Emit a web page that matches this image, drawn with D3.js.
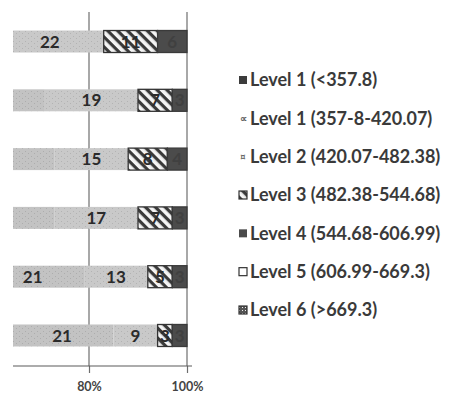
<!DOCTYPE html>
<html>
<head>
<meta charset="utf-8">
<script src="https://cdn.jsdelivr.net/npm/d3@7"></script>
<style>
  html, body { margin: 0; padding: 0; background: #fff; }
  svg { display: block; }
  text { font-family: Lato, "Open Sans", sans-serif; font-weight: 700; }
</style>
</head>
<body>
<svg id="chart" width="453" height="400"></svg>
<script>
// Rows of the stacked bars, top to bottom
const rows = ["r1", "r2", "r3", "r4", "r5", "r6"];

// Legend entries, in stacking order
const levelNames = [
  "Level 1 (<357.8)",
  "Level 1 (357-8-420.07)",
  "Level 2 (420.07-482.38)",
  "Level 3 (482.38-544.68)",
  "Level 4 (544.68-606.99)",
  "Level 5 (606.99-669.3)",
  "Level 6 (>669.3)"
];

// Percentage shares per row
const level1Low  = [41, 49, 52, 52, 58, 64];
const level1Mid  = [20, 22, 21, 21, 21, 21];
const level2     = [22, 19, 15, 17, 13, 9];
const level3     = [11, 7, 8, 7, 5, 3];
const level4     = [6, 3, 4, 3, 3, 3];
const level5     = [0, 0, 0, 0, 0, 0];
const level6     = [0, 0, 0, 0, 0, 0];

// Axis ticks
const tickValues = [80, 100];

const series = [level1Low, level1Mid, level2, level3, level4, level5, level6];
const keys = levelNames.map((d, i) => "k" + i);
const table = rows.map((r, ri) => {
  const o = { row: r };
  keys.forEach((k, ki) => { o[k] = series[ki][ri]; });
  return o;
});

const svg = d3.select("#chart");
const defs = svg.append("defs");

// Diagonal hatch for Level 3
const hatch = defs.append("pattern")
  .attr("id", "hatch").attr("patternUnits", "userSpaceOnUse")
  .attr("width", 7).attr("height", 7)
  .attr("patternTransform", "rotate(45)");
hatch.append("rect").attr("width", 7).attr("height", 7).attr("fill", "#f4f4f4");
hatch.append("rect").attr("width", 7).attr("height", 3.2).attr("fill", "#3a3a3a");

// Speckled grey fills for the Level 1 / Level 2 bands
function speckle(id, base, dot) {
  const p = defs.append("pattern").attr("id", id)
    .attr("patternUnits", "userSpaceOnUse").attr("width", 6).attr("height", 5);
  p.append("rect").attr("width", 6).attr("height", 5).attr("fill", base);
  p.append("rect").attr("x", 1).attr("y", 1).attr("width", 1).attr("height", 1).attr("fill", dot);
  p.append("rect").attr("x", 4).attr("y", 3).attr("width", 1).attr("height", 1).attr("fill", dot);
}
speckle("speckA", "#c3c3c3", "#adadad");
speckle("speckB", "#c9c9c9", "#b3b3b3");

// Dotted fill for Level 6
const dots = defs.append("pattern").attr("id", "dots")
  .attr("patternUnits", "userSpaceOnUse").attr("width", 3).attr("height", 3);
dots.append("rect").attr("width", 3).attr("height", 3).attr("fill", "#555");
dots.append("rect").attr("width", 1).attr("height", 1).attr("fill", "#eee");

const fills = ["#3c3c3c", "url(#speckA)", "url(#speckB)", "url(#hatch)", "#4b4b4b", "#ffffff", "url(#dots)"];
const strokes = [null, null, null, "#333", "#3a3a3a", "#333", "#333"];

// Only the right-hand part of the percentage scale lies inside the plot
const plotLeft = 13, plotRight = 192, plotTop = 12, axisY = 366;
const x = d3.scaleLinear().domain([0, 100]).range([-303, 187]);
const y = d3.scaleBand().domain(rows).range([plotTop, 365])
  .paddingInner(0.626).paddingOuter(0.315);

defs.append("clipPath").attr("id", "plotClip")
  .append("rect").attr("x", plotLeft).attr("y", 0)
  .attr("width", plotRight - plotLeft).attr("height", 400);

// Vertical reference lines at the tick values
svg.append("g")
  .selectAll("line").data(tickValues).join("line")
  .attr("x1", d => x(d)).attr("x2", d => x(d))
  .attr("y1", plotTop).attr("y2", axisY)
  .attr("stroke", "#6e6e6e").attr("stroke-width", 1.2);

const stacked = d3.stack().keys(keys)(table);

const plot = svg.append("g").attr("clip-path", "url(#plotClip)");

const layers = plot.selectAll("g.layer").data(stacked).join("g")
  .attr("class", "layer");

layers.selectAll("rect").data((s, i) => s.map(d => ({ d, i }))).join("rect")
  .filter(o => o.d[1] - o.d[0] > 0)
  .attr("x", o => x(o.d[0]))
  .attr("y", o => y(o.d.data.row))
  .attr("width", o => x(o.d[1]) - x(o.d[0]))
  .attr("height", y.bandwidth())
  .attr("fill", o => fills[o.i])
  .attr("stroke", o => strokes[o.i])
  .attr("stroke-width", o => strokes[o.i] ? 1.3 : 0);

// Value labels centred in each segment that shows inside the plot
const labelled = s => s.map(d => ({ d, i: s.index }))
  .filter(o => o.d[1] - o.d[0] > 0 && (x(o.d[0]) + x(o.d[1])) / 2 > plotLeft + 6);
layers.selectAll("text").data(labelled).join("text")
  .attr("x", o => (x(o.d[0]) + x(o.d[1])) / 2)
  .attr("y", o => y(o.d.data.row) + y.bandwidth() / 2)
  .attr("dy", "0.36em")
  .attr("text-anchor", "middle")
  .attr("font-size", 17)
  .attr("fill", o => o.i === 4 ? "#404040" : "#2b2b2b")
  .text(o => o.d[1] - o.d[0]);

// Bottom axis
const axis = d3.axisBottom(x).tickValues(tickValues)
  .tickSize(7).tickSizeOuter(0).tickPadding(9)
  .tickFormat(d => d + "%");
const ax = svg.append("g").attr("transform", `translate(0,${axisY})`).call(axis);
ax.select(".domain").remove();
ax.selectAll(".tick line").attr("stroke", "#6e6e6e").attr("stroke-width", 1.2);
ax.selectAll(".tick text").attr("font-size", 12.5).attr("fill", "#444")
  .attr("font-family", "Lato, sans-serif").attr("font-weight", 700);
svg.append("line")
  .attr("x1", plotLeft).attr("x2", plotRight)
  .attr("y1", axisY).attr("y2", axisY)
  .attr("stroke", "#5a5a5a").attr("stroke-width", 1.2);

// Legend
const legendY = d3.scalePoint().domain(levelNames).range([80, 310]);
const lg = svg.append("g").selectAll("g").data(levelNames).join("g")
  .attr("transform", d => `translate(239,${legendY(d)})`);
lg.append("rect")
  .attr("x", 0).attr("y", -4).attr("width", 8).attr("height", 8)
  .attr("fill", (d, i) => i === 1 || i === 2 ? "#fff" : fills[i])
  .attr("stroke", (d, i) => (i === 3 || i === 5 || i === 6) ? "#333" : "none")
  .attr("stroke-width", 1.2);
lg.filter((d, i) => i === 1 || i === 2).append("text")
  .attr("x", 4).attr("y", 0).attr("dy", "0.35em").attr("text-anchor", "middle")
  .attr("font-size", 10).attr("fill", "#666")
  .text((d, i) => i === 0 ? "\u221d" : "\u00a4");
lg.append("text")
  .attr("x", 11).attr("y", 0).attr("dy", "0.36em")
  .attr("font-size", 18).attr("fill", "#3a3a3a")
  .text(d => d);
</script>
</body>
</html>
